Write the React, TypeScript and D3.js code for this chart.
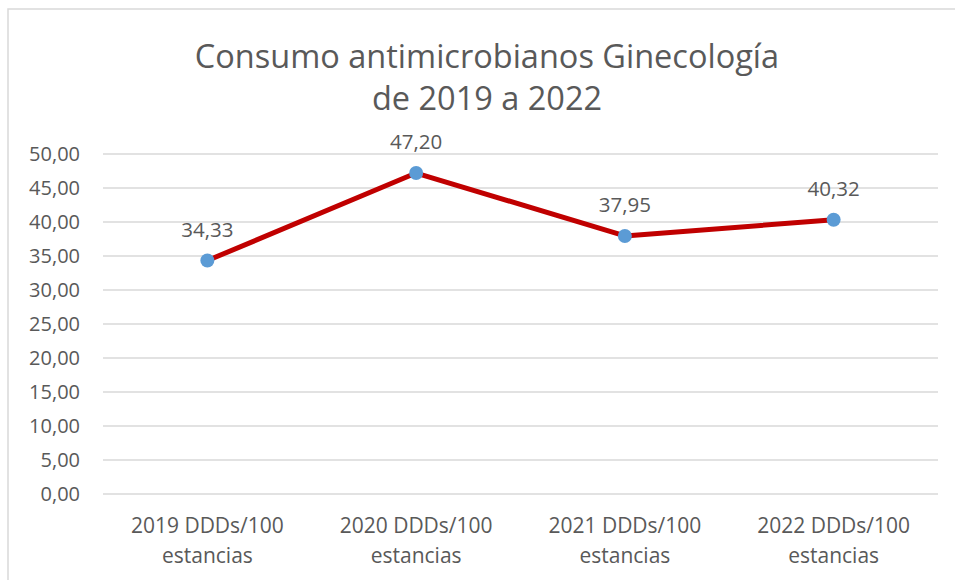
import React from 'react';
import * as d3 from 'd3';

const categories = ['2019 DDDs/100 estancias', '2020 DDDs/100 estancias', '2021 DDDs/100 estancias', '2022 DDDs/100 estancias'];
const values = [34.33, 47.2, 37.95, 40.32];
const yTicks = [0, 5, 10, 15, 20, 25, 30, 35, 40, 45, 50];
const titleLines = ['Consumo antimicrobianos Ginecología', 'de 2019 a 2022'];

const fmt = (v: number) => v.toFixed(2).replace('.', ',');

export default function App() {
  const width = 955;
  const height = 580;
  const margin = { top: 154, right: 17, bottom: 86, left: 103 };
  const innerW = width - margin.left - margin.right;
  const innerH = height - margin.top - margin.bottom;

  const x = d3.scaleBand<string>().domain(categories).range([0, innerW]);
  const y = d3.scaleLinear().domain([0, 50]).range([innerH, 0]);

  const line = d3
    .line<number>()
    .x((_, i) => (x(categories[i]) || 0) + x.bandwidth() / 2)
    .y((d) => y(d));

  const font = "'Open Sans', sans-serif";
  const textColor = '#595959';

  return (
    <svg
      width={width}
      height={height}
      style={{ position: 'absolute', left: 0, top: 0, background: '#fff' }}
      fontFamily={font}
    >
      <rect x={8} y={9} width={960} height={600} fill="#fff" stroke="#d9d9d9" strokeWidth={1.5} />

      {titleLines.map((t, i) => (
        <text key={t} x={487} y={68 + i * 42} textAnchor="middle" fontSize={32.5} fill={textColor}>
          {t}
        </text>
      ))}

      <g transform={`translate(${margin.left},${margin.top})`}>
        {yTicks.map((t) => (
          <g key={t}>
            <line x1={0} x2={innerW} y1={y(t)} y2={y(t)} stroke="#d9d9d9" strokeWidth={1.5} />
            <text x={-23} y={y(t)} dy="0.36em" textAnchor="end" fontSize={20} fill={textColor}>
              {fmt(t)}
            </text>
          </g>
        ))}

        {categories.map((c) => {
          const cx = (x(c) || 0) + x.bandwidth() / 2;
          const parts = c.split(' ');
          return (
            <text key={c} x={cx} textAnchor="middle" fontSize={21} fill={textColor}>
              <tspan x={cx} y={innerH + 39}>{parts.slice(0, 2).join(' ')}</tspan>
              <tspan x={cx} y={innerH + 69}>{parts.slice(2).join(' ')}</tspan>
            </text>
          );
        })}

        <path d={line(values) || ''} fill="none" stroke="#c00000" strokeWidth={5} strokeLinejoin="round" />

        {values.map((v, i) => {
          const cx = (x(categories[i]) || 0) + x.bandwidth() / 2;
          return (
            <g key={i}>
              <circle cx={cx} cy={y(v)} r={7} fill="#5b9bd5" />
              <text x={cx} y={y(v) - 24} textAnchor="middle" fontSize={20.5} fill={textColor}>
                {fmt(v)}
              </text>
            </g>
          );
        })}
      </g>
    </svg>
  );
}
